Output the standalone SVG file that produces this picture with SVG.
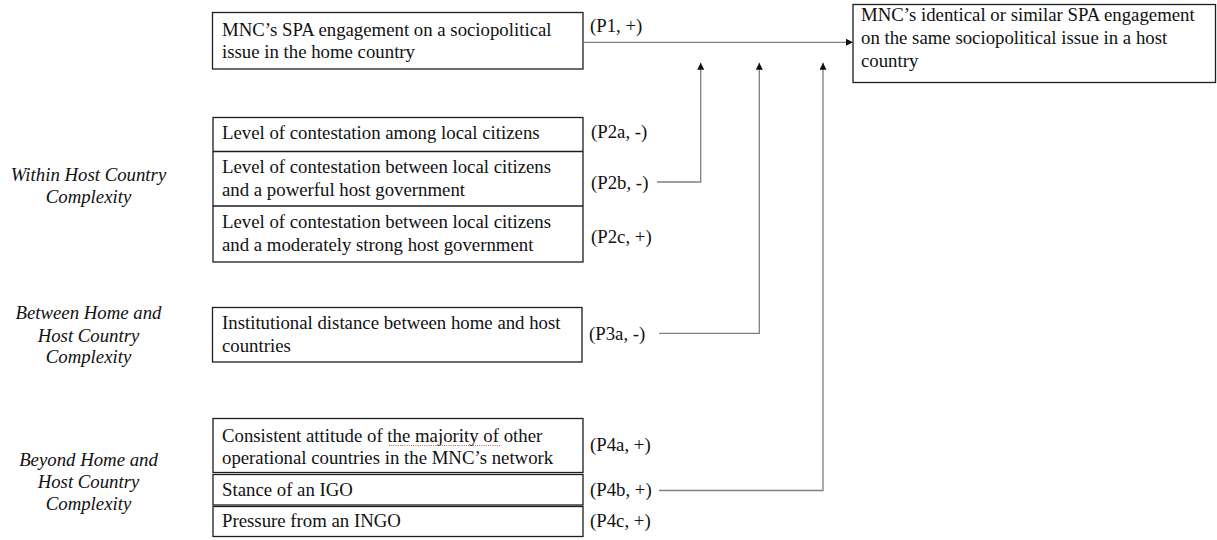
<svg xmlns="http://www.w3.org/2000/svg" width="1217" height="540" viewBox="0 0 1217 540">
<style>
.box{fill:#fff;stroke:#1e1e1e;stroke-width:1.3}
.t{font-family:"Liberation Serif","Times New Roman",serif;font-size:18.8px;fill:#111}
.lab{font-family:"Liberation Serif","Times New Roman",serif;font-size:18.8px;font-style:italic;fill:#111;text-anchor:middle}
.con{fill:none;stroke:#808080;stroke-width:1.3}
</style>
<defs>
<marker id="ah" viewBox="0 0 10 10" refX="10" refY="5" markerWidth="8" markerHeight="7" orient="auto" markerUnits="userSpaceOnUse">
<path d="M0,0 L10,5 L0,10 z" fill="#111"/>
</marker>
</defs>
<rect width="1217" height="540" fill="#fff"/>

<g id="labels">
<text class="lab" x="88.5" y="180.5">Within Host Country</text>
<text class="lab" x="88.5" y="203">Complexity</text>
<text class="lab" x="88.5" y="319">Between Home and</text>
<text class="lab" x="88.5" y="341.5">Host Country</text>
<text class="lab" x="88.5" y="363">Complexity</text>
<text class="lab" x="88.5" y="466">Beyond Home and</text>
<text class="lab" x="88.5" y="488">Host Country</text>
<text class="lab" x="88.5" y="510">Complexity</text>
</g>

<g id="n-home">
<rect class="box" x="212.5" y="12.5" width="370.5" height="56.5"/>
<text class="t" x="222" y="35.7">MNC’s SPA engagement on a sociopolitical</text>
<text class="t" x="222" y="58.3">issue in the home country</text>
<text class="t" x="590" y="32">(P1, +)</text>
</g>

<g id="n-host">
<rect class="box" x="853" y="4.5" width="362.5" height="78"/>
<text class="t" x="861" y="20.5">MNC’s identical or similar SPA engagement</text>
<text class="t" x="861" y="43.5">on the same sociopolitical issue in a host</text>
<text class="t" x="861" y="66.5">country</text>
</g>

<g id="n-within">
<rect class="box" x="213" y="117.5" width="370" height="144.5"/>
<line x1="213" y1="151.5" x2="583" y2="151.5" stroke="#1e1e1e" stroke-width="1.3"/>
<line x1="213" y1="206" x2="583" y2="206" stroke="#1e1e1e" stroke-width="1.3"/>
<text class="t" x="222" y="139">Level of contestation among local citizens</text>
<text class="t" x="222" y="172.7">Level of contestation between local citizens</text>
<text class="t" x="222" y="195.5">and a powerful host government</text>
<text class="t" x="222" y="228">Level of contestation between local citizens</text>
<text class="t" x="222" y="250.7">and a moderately strong host government</text>
<text class="t" x="591" y="138">(P2a, -)</text>
<text class="t" x="591" y="188.5">(P2b, -)</text>
<text class="t" x="591" y="242.5">(P2c, +)</text>
</g>

<g id="n-between">
<rect class="box" x="212.5" y="307.5" width="369.5" height="54.5"/>
<text class="t" x="222" y="329.3">Institutional distance between home and host</text>
<text class="t" x="222" y="351.7">countries</text>
<text class="t" x="589" y="339.5">(P3a, -)</text>
</g>

<g id="n-beyond">
<rect class="box" x="213" y="418.5" width="370" height="54"/>
<rect class="box" x="213" y="474.5" width="370" height="30.5"/>
<rect class="box" x="213" y="506.5" width="370" height="30"/>
<text class="t" x="222" y="441.7">Consistent attitude of the majority of other</text>
<text class="t" x="222" y="464">operational countries in the MNC’s network</text>
<line x1="389" y1="445.5" x2="501" y2="445.5" stroke="#c0604d" stroke-width="1" stroke-dasharray="1,1.2"/>
<text class="t" x="222" y="496">Stance of an IGO</text>
<text class="t" x="222" y="527">Pressure from an INGO</text>
<text class="t" x="590" y="451">(P4a, +)</text>
<text class="t" x="590" y="496">(P4b, +)</text>
<text class="t" x="590" y="527">(P4c, +)</text>
</g>

<g id="connectors">
<path class="con" d="M583,42.3 H853" stroke="#6e6e6e" marker-end="url(#ah)"/>
<path class="con" d="M657,182 H700.7 V62.7" marker-end="url(#ah)"/>
<path class="con" d="M659,333.3 H759.3 V62.7" marker-end="url(#ah)"/>
<path class="con" d="M659,490.5 H823 V62.7" marker-end="url(#ah)"/>
</g>
</svg>
